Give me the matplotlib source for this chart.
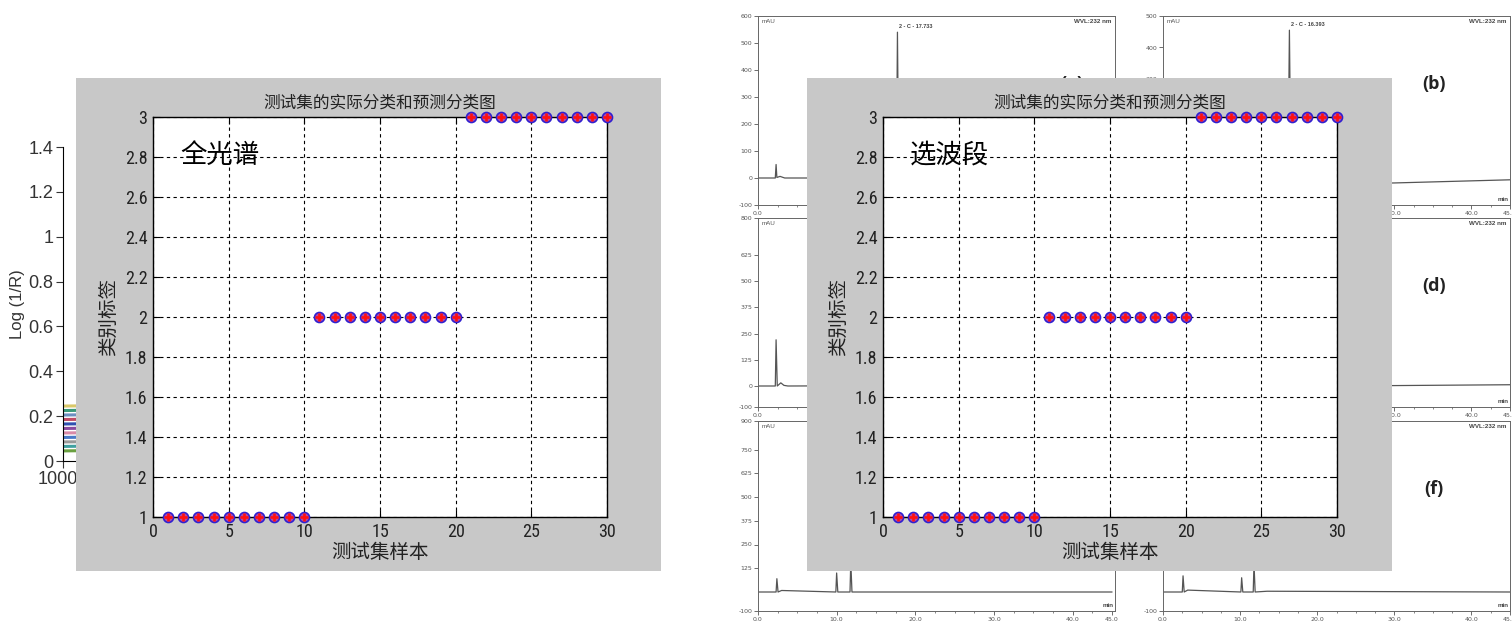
import matplotlib

matplotlib.use("Agg")

import matplotlib.pyplot as plt
from matplotlib import font_manager
from matplotlib.ticker import FuncFormatter, MultipleLocator

W, H = 1512, 622
CJK = ["Noto Sans CJK SC", "DejaVu Sans"]
SANS = ["Liberation Sans", "DejaVu Sans"]

# classification charts (both panels show identical results)
sample_idx = [1, 2, 3, 4, 5, 6, 7, 8, 9, 10,
              11, 12, 13, 14, 15, 16, 17, 18, 19, 20,
              21, 22, 23, 24, 25, 26, 27, 28, 29, 30]
actual_class = [1, 1, 1, 1, 1, 1, 1, 1, 1, 1,
                2, 2, 2, 2, 2, 2, 2, 2, 2, 2,
                3, 3, 3, 3, 3, 3, 3, 3, 3, 3]
pred_full = [1, 1, 1, 1, 1, 1, 1, 1, 1, 1,
             2, 2, 2, 2, 2, 2, 2, 2, 2, 2,
             3, 3, 3, 3, 3, 3, 3, 3, 3, 3]
pred_band = [1, 1, 1, 1, 1, 1, 1, 1, 1, 1,
             2, 2, 2, 2, 2, 2, 2, 2, 2, 2,
             3, 3, 3, 3, 3, 3, 3, 3, 3, 3]
chart_title = "测试集的实际分类和预测分类图"
chart_xlabel = "测试集样本"
chart_ylabel = "类别标签"
x_ticks = [0, 5, 10, 15, 20, 25, 30]
y_ticks = [1, 1.2, 1.4, 1.6, 1.8, 2, 2.2, 2.4, 2.6, 2.8, 3]

# NIR spectra peeking out on the left
spec_wavenumber = [10000, 9000, 8000, 7000, 6000, 5000, 4000]
spec_values = [
    [0.245, 0.25, 0.27, 0.30, 0.34, 0.40, 0.45],
    [0.225, 0.23, 0.25, 0.28, 0.32, 0.38, 0.43],
    [0.205, 0.21, 0.23, 0.26, 0.30, 0.36, 0.41],
    [0.185, 0.19, 0.21, 0.24, 0.28, 0.34, 0.39],
    [0.165, 0.17, 0.19, 0.22, 0.26, 0.32, 0.37],
    [0.145, 0.15, 0.17, 0.20, 0.24, 0.30, 0.35],
    [0.125, 0.13, 0.15, 0.18, 0.22, 0.28, 0.33],
    [0.105, 0.11, 0.13, 0.16, 0.20, 0.26, 0.31],
    [0.085, 0.09, 0.11, 0.14, 0.18, 0.24, 0.29],
    [0.065, 0.07, 0.09, 0.12, 0.16, 0.22, 0.27],
    [0.045, 0.05, 0.07, 0.10, 0.14, 0.20, 0.25],
]
spec_colors = ["#d9c86a", "#3a9a7a", "#6c8fc0", "#c04a66", "#3050b0", "#8a4aa0",
               "#d88aa8", "#4a7ac8", "#9a9a9a", "#40a0a0", "#6aa040"]
spec_yticks = [0, 0.2, 0.4, 0.6, 0.8, 1, 1.2, 1.4]

# HPLC chromatograms in the background (time in min, signal in mAU)
chrom_a_time = [0.0, 2.2, 2.3, 2.4, 2.8, 3.4, 17.6, 17.733, 17.9, 45.0]
chrom_a_mau = [0, 0, 50, 2, 6, 0, 0, 540, 0, 0]
chrom_b_time = [0.0, 16.2, 16.393, 16.6, 30.0, 45.0]
chrom_b_mau = [-40, -38, 455, -36, -30, -20]
chrom_c_time = [0.0, 2.2, 2.3, 2.45, 2.9, 3.3, 3.8, 45.0]
chrom_c_mau = [0, 0, 220, 0, 15, 3, 0, 5]
chrom_d_time = [0.0, 30.0, 45.0]
chrom_d_mau = [0, 2, 6]
chrom_e_time = [0.0, 2.3, 2.4, 2.55, 3.0, 9.9, 10.0, 10.15, 11.7, 11.8, 11.95, 45.0]
chrom_e_mau = [0, 0, 70, 0, 8, 0, 100, 0, 0, 160, 0, 0]
chrom_f_time = [0.0, 2.5, 2.6, 2.75, 3.2, 10.1, 10.2, 10.35, 11.7, 11.8, 11.95, 13.5, 45.0]
chrom_f_mau = [0, 0, 85, 0, 10, 0, 75, 0, 0, 150, 0, 4, 0]
chrom_x_ticks = [0, 10, 20, 30, 40, 45]


def pick_narrow_font():
    # MATLAB-ish condensed digits; use whatever narrow face is installed
    names = {f.name for f in font_manager.fontManager.ttflist}
    for name in ("Liberation Sans Narrow", "Arial Narrow", "Roboto Condensed",
                 "DejaVu Sans Condensed", "Open Sans Condensed"):
        if name in names:
            return [name, "DejaVu Sans"], "normal"
    return ["DejaVu Sans", "Liberation Sans"], "condensed"


NARROW, NARROW_STRETCH = pick_narrow_font()


def fig_box(x0, y0, x1, y1):
    return [x0 / W, 1 - y1 / H, (x1 - x0) / W, (y1 - y0) / H]


def fmt_g(value, _pos=None):
    return f"{round(value, 2):g}"


def draw_chrom(fig, box, times, mau, ylim, yticks, xmax, tag, tag_x, peak_label=None):
    ax = fig.add_axes(box)
    ax.set_zorder(0)
    ax.plot(times, mau, color="#555555", linewidth=0.9)
    ax.set_xlim(0, xmax)
    ax.set_ylim(*ylim)
    ax.set_xticks(chrom_x_ticks)
    ax.set_xticklabels([f"{t:.1f}" for t in chrom_x_ticks])
    ax.xaxis.set_minor_locator(MultipleLocator(2.5))
    ax.set_yticks(yticks)
    ax.set_yticklabels([str(v) for v in yticks])
    ax.tick_params(labelsize=4.5, colors="#555555", length=3, width=0.6, pad=1)
    ax.tick_params(which="minor", length=1.5, width=0.5, colors="#555555")
    for spine in ax.spines.values():
        spine.set_color("#666666")
        spine.set_linewidth(0.7)
    ax.text(0.01, 0.985, "mAU", transform=ax.transAxes, fontsize=4.5, color="#555555",
            va="top", ha="left", family=SANS)
    ax.text(0.99, 0.985, "WVL:232 nm", transform=ax.transAxes, fontsize=4.5, color="#444444",
            va="top", ha="right", family=SANS, weight="bold")
    ax.text(0.995, 0.015, "min", transform=ax.transAxes, fontsize=4.5, color="#444444",
            va="bottom", ha="right", family=SANS, weight="bold")
    ax.text(tag_x, 0.64, tag, transform=ax.transAxes, fontsize=13, color="#222222",
            va="center", ha="center", family=["Open Sans", "DejaVu Sans"], weight="bold")
    if peak_label is not None:
        peak_idx = mau.index(max(mau))
        ax.annotate(peak_label, (times[peak_idx], mau[peak_idx]), xytext=(1, 2),
                    textcoords="offset points", fontsize=4, color="#444444",
                    family=SANS, weight="bold", va="bottom", ha="left")
    return ax


def draw_class_chart(fig, box, predicted, note):
    ax = fig.add_axes(box)
    ax.set_zorder(2)
    ax.set_facecolor("white")
    ax.plot(sample_idx, actual_class, "o", mec="#3020d0", mfc="#b048a8", ms=7.2, mew=1.2,
            clip_on=False, zorder=3)
    ax.plot(sample_idx, predicted, "+", color="#ff1010", ms=6, mew=1.9, clip_on=False, zorder=4)
    ax.set_xlim(0, 30)
    ax.set_ylim(1, 3)
    ax.set_xticks(x_ticks)
    ax.set_yticks(y_ticks)
    ax.yaxis.set_major_formatter(FuncFormatter(fmt_g))
    ax.tick_params(direction="in", length=5, top=True, right=True, labelsize=13,
                   colors="black", labelcolor="#222222", pad=4)
    for label in ax.get_xticklabels() + ax.get_yticklabels():
        label.set_family(NARROW)
        label.set_fontstretch(NARROW_STRETCH)
    ax.grid(True, color="black", linestyle=(0, (3, 3)), linewidth=0.8)
    ax.set_axisbelow(True)
    for spine in ax.spines.values():
        spine.set_linewidth(1.0)
        spine.set_color("black")
    ax.set_title(chart_title, family=CJK, fontsize=12, color="#222222", pad=7)
    ax.set_xlabel(chart_xlabel, family=CJK, fontsize=14, color="#222222", labelpad=1)
    ax.set_ylabel(chart_ylabel, family=CJK, fontsize=14, color="#222222", labelpad=4)
    ax.text(0.06, 0.905, note, transform=ax.transAxes, family=CJK, fontsize=19,
            weight="light", color="black", va="center", ha="left")
    return ax


def main():
    fig = plt.figure(figsize=(W / 100, H / 100), dpi=100)
    fig.patch.set_facecolor("white")

    # spectra axis on the far left
    ax_s = fig.add_axes(fig_box(63, 147, 640, 461))
    ax_s.set_zorder(0)
    for vals, color in zip(spec_values, spec_colors):
        ax_s.plot(spec_wavenumber, vals, color=color, linewidth=2.2)
    ax_s.set_xlim(10000, 4000)
    ax_s.set_ylim(0, 1.4)
    ax_s.set_yticks(spec_yticks)
    ax_s.yaxis.set_major_formatter(FuncFormatter(fmt_g))
    ax_s.set_xticks([10000])
    ax_s.tick_params(direction="out", length=5, labelsize=13, colors="#333333", pad=2)
    for label in ax_s.get_xticklabels() + ax_s.get_yticklabels():
        label.set_family(SANS)
    ax_s.spines["top"].set_visible(False)
    ax_s.spines["right"].set_visible(False)
    ax_s.set_ylabel("Log (1/R)", family=SANS, fontsize=12, color="#333333", labelpad=2)

    # chromatogram grid on the right
    col1 = (758, 1115)
    col2 = (1163, 1510)
    rows = [(16, 205), (218, 407), (421, 611)]
    draw_chrom(fig, fig_box(col1[0], rows[0][0], col1[1], rows[0][1]), chrom_a_time, chrom_a_mau,
               (-100, 600), [-100, 0, 100, 200, 300, 400, 500, 600], 45.4, "(a)", 0.88,
               "2 - C - 17.733")
    draw_chrom(fig, fig_box(col2[0], rows[0][0], col2[1], rows[0][1]), chrom_b_time, chrom_b_mau,
               (-100, 500), [-100, 0, 100, 200, 300, 400, 500], 44.5, "(b)", 0.78,
               "2 - C - 16.393")
    draw_chrom(fig, fig_box(col1[0], rows[1][0], col1[1], rows[1][1]), chrom_c_time, chrom_c_mau,
               (-100, 800), [-100, 0, 125, 250, 375, 500, 625, 800], 45.4, "(c)", 0.88)
    draw_chrom(fig, fig_box(col2[0], rows[1][0], col2[1], rows[1][1]), chrom_d_time, chrom_d_mau,
               (-100, 800), [-100, 0, 125, 250, 375, 500, 625, 800], 44.5, "(d)", 0.78)
    draw_chrom(fig, fig_box(col1[0], rows[2][0], col1[1], rows[2][1]), chrom_e_time, chrom_e_mau,
               (-100, 900), [-100, 125, 250, 375, 500, 625, 750, 900], 45.4, "(e)", 0.88)
    draw_chrom(fig, fig_box(col2[0], rows[2][0], col2[1], rows[2][1]), chrom_f_time, chrom_f_mau,
               (-100, 900), [-100, 125, 250, 375, 500, 625, 750, 900], 44.5, "(f)", 0.78)

    # grey MATLAB figure windows
    for box in (fig_box(76, 78, 661, 571), fig_box(807, 78, 1392, 571)):
        panel = fig.add_axes(box)
        panel.set_zorder(1)
        panel.set_facecolor("#c8c8c8")
        panel.set_xticks([])
        panel.set_yticks([])
        for spine in panel.spines.values():
            spine.set_visible(False)

    draw_class_chart(fig, fig_box(153, 117, 607, 517), pred_full, "全光谱")
    draw_class_chart(fig, fig_box(883, 117, 1337, 517), pred_band, "选波段")

    fig.savefig("out.png", dpi=100)
    plt.close(fig)


if __name__ == "__main__":
    main()
